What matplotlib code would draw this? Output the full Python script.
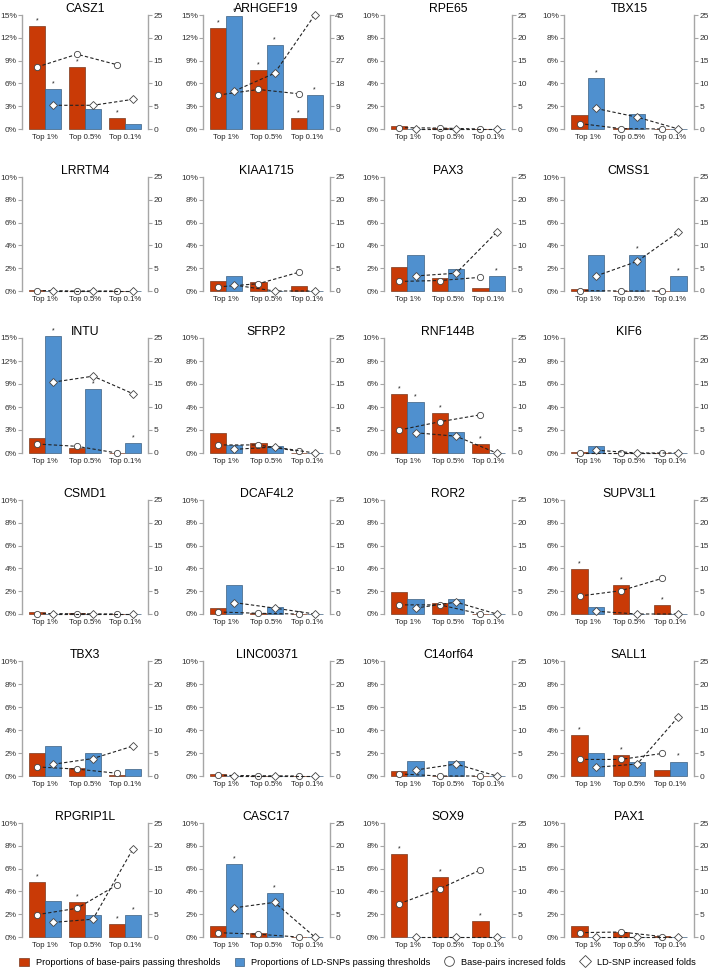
import matplotlib
matplotlib.use('Agg')
import matplotlib.pyplot as plt
from matplotlib.lines import Line2D
from matplotlib.patches import Patch

plt.rcParams['font.family'] = ['Liberation Sans', 'DejaVu Sans']

genes = ['CASZ1', 'ARHGEF19', 'RPE65', 'TBX15',
         'LRRTM4', 'KIAA1715', 'PAX3', 'CMSS1',
         'INTU', 'SFRP2', 'RNF144B', 'KIF6',
         'CSMD1', 'DCAF4L2', 'ROR2', 'SUPV3L1',
         'TBX3', 'LINC00371', 'C14orf64', 'SALL1',
         'RPGRIP1L', 'CASC17', 'SOX9', 'PAX1']
thresholds = ['Top 1%', 'Top 0.5%', 'Top 0.1%']

# % of base-pairs passing thresholds (red bars)
bp_prop = [
    [13.6, 8.2, 1.4], [13.3, 7.8, 1.4], [0.3, 0.1, 0.0], [1.2, 0.1, 0.0],
    [0.1, 0.0, 0.0], [0.9, 0.75, 0.4], [2.1, 1.1, 0.3], [0.2, 0.0, 0.0],
    [1.9, 0.65, 0.0], [1.7, 0.85, 0.0], [5.15, 3.45, 0.82], [0.05, 0.0, 0.0],
    [0.15, 0.05, 0.0], [0.53, 0.1, 0.0], [1.95, 1.0, 0.0], [3.93, 2.58, 0.76],
    [2.0, 0.73, 0.05], [0.15, 0.0, 0.0], [0.44, 0.0, 0.0], [3.57, 1.81, 0.5],
    [4.85, 3.1, 1.14], [0.97, 0.35, 0.0], [7.25, 5.3, 1.43], [0.94, 0.47, 0.05],
]
# % of LD-SNPs passing thresholds (blue bars)
snp_prop = [
    [5.2, 2.6, 0.65], [14.9, 11.0, 4.5], [0.0, 0.0, 0.0], [4.5, 1.3, 0.0],
    [0.0, 0.0, 0.0], [1.3, 0.0, 0.0], [3.2, 1.9, 1.3], [3.2, 3.2, 1.3],
    [15.3, 8.3, 1.3], [0.7, 0.65, 0.0], [4.4, 1.85, 0.0], [0.62, 0.0, 0.0],
    [0.0, 0.0, 0.0], [2.57, 0.65, 0.0], [1.3, 1.3, 0.0], [0.62, 0.0, 0.0],
    [2.6, 1.96, 0.64], [0.0, 0.0, 0.0], [1.29, 1.29, 0.0], [1.96, 1.26, 1.26],
    [3.2, 1.9, 1.9], [6.4, 3.86, 0.0], [0.0, 0.0, 0.0], [0.0, 0.0, 0.0],
]
# base-pairs increased folds (circles)
bp_fold = [
    [13.6, 16.4, 14.1], [13.4, 15.6, 13.9], [0.3, 0.2, 0.0], [1.2, 0.1, 0.0],
    [0.1, 0.0, 0.0], [0.9, 1.6, 4.1], [2.1, 2.3, 3.0], [0.1, 0.0, 0.0],
    [1.95, 1.45, 0.0], [1.75, 1.75, 0.35], [5.0, 6.8, 8.3], [0.0, 0.0, 0.0],
    [0.1, 0.05, 0.0], [0.45, 0.15, 0.0], [2.0, 2.0, 0.0], [3.95, 5.1, 7.8],
    [1.97, 1.5, 0.6], [0.15, 0.05, 0.0], [0.45, 0.0, 0.0], [3.6, 3.6, 4.9],
    [4.9, 6.3, 11.4], [0.95, 0.6, 0.0], [7.3, 10.6, 14.7], [0.95, 1.1, 0.1],
]
# LD-SNP increased folds (diamonds)
snp_fold = [
    [5.2, 5.2, 6.5], [15.0, 22.0, 45.0], [0.0, 0.0, 0.0], [4.5, 2.6, 0.0],
    [0.0, 0.0, 0.0], [1.3, 0.0, 0.0], [3.3, 3.9, 12.9], [3.3, 6.5, 12.9],
    [15.4, 16.7, 12.9], [0.8, 1.3, 0.0], [4.4, 3.65, 0.0], [0.6, 0.0, 0.0],
    [0.0, 0.0, 0.0], [2.5, 1.3, 0.0], [1.3, 2.6, 0.0], [0.6, 0.0, 0.0],
    [2.55, 3.8, 6.5], [0.0, 0.0, 0.0], [1.3, 2.6, 0.0], [1.9, 2.6, 12.9],
    [3.2, 3.9, 19.3], [6.4, 7.6, 0.0], [0.0, 0.0, 0.0], [0.0, 0.0, 0.0],
]
# significance marks (1 = star above bar)
bp_star = [
    [1, 1, 1], [1, 1, 1], [0, 0, 0], [0, 0, 0],
    [0, 0, 0], [0, 0, 0], [0, 0, 0], [0, 0, 0],
    [0, 0, 0], [0, 0, 0], [1, 1, 1], [0, 0, 0],
    [0, 0, 0], [0, 0, 0], [0, 0, 0], [1, 1, 1],
    [0, 0, 0], [0, 0, 0], [0, 0, 0], [1, 1, 0],
    [1, 1, 1], [0, 0, 0], [1, 1, 1], [0, 0, 0],
]
snp_star = [
    [1, 0, 0], [1, 1, 1], [0, 0, 0], [1, 0, 0],
    [0, 0, 0], [0, 0, 0], [0, 0, 1], [0, 1, 1],
    [1, 1, 1], [0, 0, 0], [1, 0, 0], [0, 0, 0],
    [0, 0, 0], [0, 0, 0], [0, 0, 0], [0, 0, 0],
    [0, 0, 0], [0, 0, 0], [0, 0, 0], [0, 0, 1],
    [0, 0, 1], [1, 1, 0], [0, 0, 0], [0, 0, 0],
]
left_max = [15, 15, 10, 10, 10, 10, 10, 10, 15, 10, 10, 10,
            10, 10, 10, 10, 10, 10, 10, 10, 10, 10, 10, 10]
right_max = [25, 45, 25, 25, 25, 25, 25, 25, 25, 25, 25, 25,
             25, 25, 25, 25, 25, 25, 25, 25, 25, 25, 25, 25]

RED = '#C93A06'
BLUE = '#4F90CF'
SPINE = '#A6A6A6'
W, H = 708, 971

# axes frame in pixels
col_l = [22, 203, 384, 564]
col_r = [148, 330, 512, 694]
row_t = [15, 177, 338, 500, 661, 823]
row_b = [129, 291, 453, 614, 776, 937]

fig = plt.figure(figsize=(W / 100, H / 100), dpi=100)

for i, gene in enumerate(genes):
    r, c = divmod(i, 4)
    ax = fig.add_axes([col_l[c] / W, 1 - row_b[r] / H,
                       (col_r[c] - col_l[c]) / W, (row_b[r] - row_t[r]) / H])
    ax2 = ax.twinx()
    xs = [0, 1, 2]
    xr = [x - 0.2 for x in xs]
    xb = [x + 0.2 for x in xs]

    ax.bar(xr, bp_prop[i], width=0.4, color=RED, edgecolor='#7a3a20',
           linewidth=0.5, clip_on=False)
    ax.bar(xb, snp_prop[i], width=0.4, color=BLUE, edgecolor='#3d5f80',
           linewidth=0.5, clip_on=False)

    for x, v, s in zip(xr, bp_prop[i], bp_star[i]):
        if s:
            ax.annotate('*', (x, v), xytext=(0, 1.2), textcoords='offset points',
                        ha='center', va='bottom', fontsize=5, color='#222222',
                        annotation_clip=False)
    for x, v, s in zip(xb, snp_prop[i], snp_star[i]):
        if s:
            ax.annotate('*', (x, v), xytext=(0, 1.2), textcoords='offset points',
                        ha='center', va='bottom', fontsize=5, color='#222222',
                        annotation_clip=False)

    ax2.plot(xr, bp_fold[i], ls=(0, (3, 2)), color='#222222', lw=0.8,
             marker='o', ms=4.5, mfc='white', mec='#444444', mew=0.6,
             clip_on=False, zorder=3)
    ax2.plot(xb, snp_fold[i], ls=(0, (3, 2)), color='#222222', lw=0.8,
             marker='D', ms=3.8, mfc='white', mec='#444444', mew=0.6,
             clip_on=False, zorder=3)

    lm, rm = left_max[i], right_max[i]
    ax.set_xlim(-0.58, 2.58)
    ax.set_ylim(0, lm)
    ax2.set_ylim(0, rm)
    ax.set_yticks(range(0, lm + 1, lm // 5))
    ax.set_yticklabels([f'{v}%' for v in range(0, lm + 1, lm // 5)])
    ax2.set_yticks(range(0, rm + 1, rm // 5))
    ax.set_xticks(xs)
    ax.set_xticklabels(thresholds)

    for a in (ax, ax2):
        for sp in ('top', 'bottom'):
            a.spines[sp].set_visible(False)
    ax.spines['right'].set_visible(False)
    ax2.spines['left'].set_visible(False)
    ax.spines['left'].set_color(SPINE)
    ax2.spines['right'].set_color(SPINE)
    ax.spines['left'].set_linewidth(1.0)
    ax2.spines['right'].set_linewidth(1.0)

    ax.tick_params(axis='x', length=0, pad=3.5, labelsize=5.6, colors='#222222')
    ax.tick_params(axis='y', length=2.8, width=0.8, color=SPINE, pad=1,
                   labelsize=6, labelcolor='#333333')
    ax2.tick_params(axis='y', length=2.8, width=0.8, color=SPINE, pad=1,
                    labelsize=6, labelcolor='#333333')
    ax.set_title(gene, fontsize=8.8, pad=2)

handles = [
    Patch(facecolor=RED, edgecolor='#7a3a20', linewidth=0.5),
    Patch(facecolor=BLUE, edgecolor='#3d5f80', linewidth=0.5),
    Line2D([], [], ls='none', marker='o', ms=7, mfc='white', mec='#444444', mew=0.6),
    Line2D([], [], ls='none', marker='D', ms=6, mfc='white', mec='#444444', mew=0.6),
]
labels = ['Proportions of base-pairs passing thresholds',
          'Proportions of LD-SNPs passing thresholds',
          'Base-pairs incresed folds',
          'LD-SNP increased folds']
fig.legend(handles, labels, loc='center', bbox_to_anchor=(0.505, 0.009), ncol=4,
           frameon=False, fontsize=6.7, handlelength=1.0, handleheight=1.0,
           columnspacing=1.5, handletextpad=0.8, borderaxespad=0)

fig.savefig('out.png', dpi=100)
